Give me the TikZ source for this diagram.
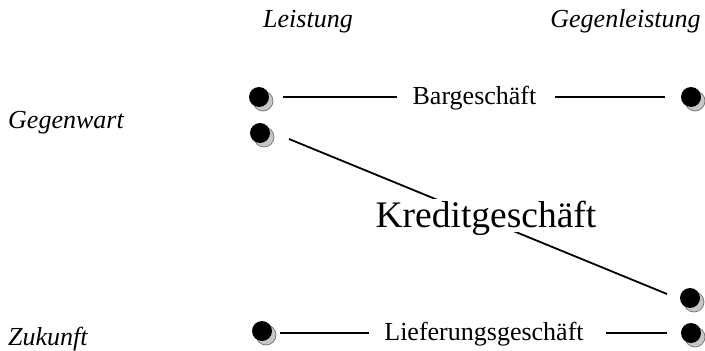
\documentclass[tikz,border=0pt]{standalone}
\usepackage{fontspec}
\setmainfont{Liberation Serif}
\usetikzlibrary{shadows}
\begin{document}
\begin{tikzpicture}[x=1pt,y=-1pt,
  dot/.style={circle, fill=black, minimum size=20pt, inner sep=0pt,
    general shadow={fill=gray!45, draw=black!55, line width=0.7pt, shadow xshift=4pt, shadow yshift=-4pt}},
  head/.style={font=\itshape\fontsize{26}{30}\selectfont, inner sep=0pt},
  lab/.style={font=\fontsize{26}{30}\selectfont, inner sep=0pt},
  big/.style={font=\fontsize{37.5}{42}\selectfont, fill=white, inner xsep=0pt, inner ysep=2pt, text depth=3pt},
  conn/.style={line width=1.8pt}]
\useasboundingbox (0,0) rectangle (705,351);
% headings
\node[head, anchor=base] (leist) at (308,27) {Leistung};
\node[head, anchor=base] (gegen) at (625.5,27) {Gegenleistung};
\node[head, anchor=base west] (gw) at (8,128) {Gegenwart};
\node[head, anchor=base west] (zk) at (8,345) {Zukunft};
% dots
\node[dot] (dTL) at (259,97) {};
\node[dot] (dML) at (260,133) {};
\node[dot] (dBL) at (262,331) {};
\node[dot] (dTR) at (691,97) {};
\node[dot] (dMR) at (690,298) {};
\node[dot] (dBR) at (691,333) {};
% labels
\node[lab, anchor=base] (barg) at (474.5,104) {Bargeschäft};
\node[lab, anchor=base] (lief) at (484,340) {Lieferungsgeschäft};
% Bargeschaeft
\draw[conn, shorten <=14pt, shorten >=15pt] (dTL) -- (dTL -| barg.west);
\draw[conn, shorten <=18pt, shorten >=16pt] (dTR -| barg.east) -- (dTR);
% Kreditgeschaeft
\coordinate (k1) at (289,139);
\coordinate (k2) at (667,294);
\draw[conn] (k1) -- (k2);
\node[big, anchor=base] (kredit) at (486,227) {Kreditgeschäft};
% Lieferungsgeschaeft
\draw[conn, shorten <=18pt, shorten >=15pt] (dBL.center |- 0,333) -- (lief.west |- 0,333);
\draw[conn, shorten <=22pt, shorten >=14pt] (lief.east |- dBR) -- (dBR);
\end{tikzpicture}
\end{document}
